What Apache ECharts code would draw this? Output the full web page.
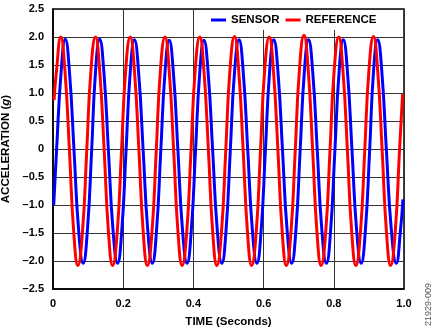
<!DOCTYPE html>
<html>
<head>
<meta charset="utf-8">
<script src="https://cdn.jsdelivr.net/npm/echarts@6/dist/echarts.min.js"></script>
<style>
html,body{margin:0;padding:0;background:#fff;}
#chart{width:435px;height:330px;}
</style>
</head>
<body>
<div id="chart"></div>
<script>
// Tick labels
var xTicks = [0, 0.2, 0.4, 0.6, 0.8, 1.0];
var yTicks = [-2.5, -2.0, -1.5, -1.0, -0.5, 0, 0.5, 1.0, 1.5, 2.0, 2.5];
var seriesNames = ['SENSOR', 'REFERENCE'];

// SENSOR (blue)
var sensorTime = [0.002,0.010,0.023,
0.035,0.047,0.060,0.073,0.086,0.098,0.110,0.121,
0.133,0.145,0.158,0.171,0.184,0.196,0.208,0.220,
0.232,0.244,0.257,0.270,0.283,0.295,0.307,0.319,
0.331,0.343,0.356,0.369,0.382,0.394,0.406,0.418,
0.430,0.442,0.455,0.468,0.481,0.493,0.505,0.517,
0.530,0.542,0.555,0.568,0.581,0.593,0.605,0.617,
0.629,0.641,0.654,0.667,0.680,0.692,0.704,0.716,
0.728,0.740,0.753,0.766,0.779,0.791,0.803,0.815,
0.827,0.839,0.852,0.865,0.878,0.890,0.902,0.913,
0.925,0.937,0.950,0.964,0.978,0.990,0.997];
var sensorValue = [-1.00,-0.04,1.37,
1.96,1.37,-0.04,-1.45,-2.04,-1.45,-0.04,1.37,
1.96,1.37,-0.04,-1.45,-2.04,-1.45,-0.04,1.37,
1.95,1.36,-0.04,-1.45,-2.04,-1.45,-0.04,1.36,
1.94,1.36,-0.04,-1.45,-2.04,-1.45,-0.04,1.36,
1.94,1.36,-0.04,-1.45,-2.04,-1.45,-0.04,1.36,
1.95,1.37,-0.04,-1.45,-2.04,-1.45,-0.04,1.37,
1.95,1.37,-0.04,-1.45,-2.04,-1.45,-0.04,1.37,
1.95,1.37,-0.04,-1.45,-2.04,-1.45,-0.04,1.37,
1.95,1.37,-0.04,-1.45,-2.04,-1.45,-0.04,1.37,
1.95,1.37,-0.04,-1.45,-2.04,-1.45,-0.90];

// REFERENCE (red)
var referenceTime = [0.003,0.010,
0.022,0.034,0.047,0.059,0.071,0.084,0.096,0.108,
0.121,0.133,0.146,0.158,0.170,0.183,0.195,0.207,
0.220,0.232,0.245,0.257,0.269,0.282,0.294,0.306,
0.319,0.331,0.344,0.356,0.368,0.381,0.393,0.405,
0.418,0.430,0.443,0.455,0.467,0.480,0.492,0.504,
0.517,0.529,0.542,0.554,0.566,0.579,0.591,0.603,
0.616,0.628,0.641,0.653,0.665,0.678,0.690,0.702,
0.715,0.727,0.740,0.752,0.764,0.777,0.789,0.801,
0.814,0.826,0.839,0.851,0.863,0.876,0.888,0.900,
0.913,0.925,0.938,0.950,0.962,0.975,0.987,0.996];
var referenceValue = [0.87,1.40,
2.00,1.40,-0.05,-1.48,-2.08,-1.48,-0.05,1.40,
2.00,1.40,-0.05,-1.48,-2.08,-1.48,-0.05,1.40,
2.00,1.40,-0.05,-1.48,-2.08,-1.48,-0.05,1.40,
2.00,1.40,-0.05,-1.48,-2.08,-1.48,-0.05,1.40,
2.00,1.40,-0.05,-1.48,-2.08,-1.48,-0.05,1.40,
2.01,1.41,-0.05,-1.48,-2.08,-1.48,-0.05,1.41,
2.00,1.40,-0.05,-1.48,-2.08,-1.48,-0.05,1.41,
2.03,1.42,-0.05,-1.48,-2.08,-1.48,-0.05,1.40,
2.00,1.40,-0.05,-1.48,-2.08,-1.48,-0.05,1.40,
2.01,1.40,-0.05,-1.48,-2.08,-1.48,-0.05,0.98];

function zip(a, b) { var r = []; for (var i = 0; i < a.length; i++) r.push([a[i], b[i]]); return r; }

var FONT = 'Liberation Sans, Arial, sans-serif';
var chart = echarts.init(document.getElementById('chart'), null, {renderer: 'canvas'});
chart.setOption({
  animation: false,
  backgroundColor: '#fff',
  grid: {left: 53, right: 31, top: 9, bottom: 41, show: true, borderColor: '#000', borderWidth: 1.5, containLabel: false, outerBoundsMode: 'none'},
  legend: {
    data: seriesNames,
    left: 207, top: 10,
    backgroundColor: '#fff',
    padding: [4, 4, 4, 4],
    itemGap: 6,
    itemWidth: 15, itemHeight: 3,
    icon: 'rect',
    textStyle: {fontFamily: FONT, fontWeight: 'bold', fontSize: 11.5, color: '#000'}
  },
  xAxis: {
    type: 'value', min: 0, max: 1, interval: 0.2,
    name: 'TIME (Seconds)', nameLocation: 'middle', nameGap: 27,
    nameTextStyle: {fontFamily: FONT, fontWeight: 'bold', fontSize: 11.5, color: '#000'},
    axisLine: {show: true, onZero: false, lineStyle: {color: '#000', width: 1.5}},
    axisTick: {show: false},
    splitLine: {show: true, lineStyle: {color: '#333', width: 1}},
    axisLabel: {fontFamily: FONT, fontWeight: 'bold', fontSize: 11, color: '#000', margin: 9,
      formatter: function (v) { for (var i = 0; i < xTicks.length; i++) { if (Math.abs(v - xTicks[i]) < 1e-6) return v === 0 ? '0' : xTicks[i].toFixed(1); } return ''; }}
  },
  yAxis: {
    type: 'value', min: -2.5, max: 2.5, interval: 0.5,
    name: 'ACCELERATION ({i|g})', nameLocation: 'middle', nameGap: 36,
    nameTextStyle: {fontFamily: FONT, fontWeight: 'bold', fontSize: 11.5, color: '#000',
      rich: {i: {fontFamily: FONT, fontWeight: 'bold', fontStyle: 'italic', fontSize: 11.5, color: '#000'}}},
    axisLine: {show: true, onZero: false, lineStyle: {color: '#000', width: 1.5}},
    axisTick: {show: false},
    splitLine: {show: true, lineStyle: {color: '#333', width: 1}},
    axisLabel: {fontFamily: FONT, fontWeight: 'bold', fontSize: 11, color: '#000', margin: 9,
      formatter: function (v) { for (var i = 0; i < yTicks.length; i++) { if (Math.abs(v - yTicks[i]) < 1e-6) { if (yTicks[i] === 0) return '0'; var s = Math.abs(yTicks[i]).toFixed(1); return yTicks[i] < 0 ? '\u2013' + s : s; } } return ''; }}
  },
  series: [
    {name: seriesNames[0], type: 'line', data: zip(sensorTime, sensorValue), smooth: 0.5, showSymbol: false,
     lineStyle: {color: '#0000ff', width: 3}, itemStyle: {color: '#0000ff'}},
    {name: seriesNames[1], type: 'line', data: zip(referenceTime, referenceValue), smooth: 0.5, showSymbol: false,
     lineStyle: {color: '#ff0000', width: 3}, itemStyle: {color: '#ff0000'}}
  ],
  graphic: [{
    type: 'text', x: 424, y: 326, rotation: Math.PI / 2,
    style: {text: '21929-009', fontFamily: FONT, fontSize: 9, fill: '#555', textAlign: 'left', textVerticalAlign: 'top'}
  }]
});
</script>
</body>
</html>
